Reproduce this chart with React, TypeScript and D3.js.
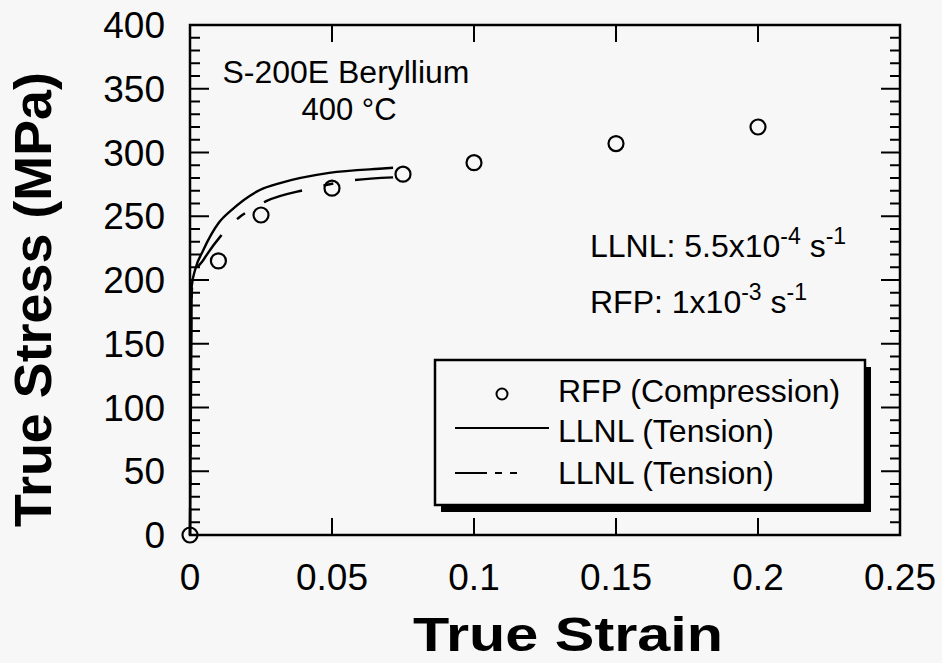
import React from "react";
import * as d3 from "d3";

const W = 942;
const H = 663;

// RFP compression data points
const rfpStrain = [0, 0.01, 0.025, 0.05, 0.075, 0.1, 0.15, 0.2];
const rfpStress = [0, 215, 251, 272, 283, 292, 307, 320];

// LLNL tension (solid)
const llnlSolidStrain = [0, 0.0006, 0.0018, 0.0047, 0.01, 0.0147, 0.0246, 0.0317, 0.049, 0.069, 0.0715];
const llnlSolidStress = [0, 195, 208, 223.5, 244.5, 255, 270.6, 276, 284, 287.6, 288];

// LLNL tension (dashed)
const llnlDashStrain = [0, 0.0005, 0.0012, 0.0047, 0.011, 0.0176, 0.0205, 0.027, 0.041, 0.0563, 0.0715];
const llnlDashStress = [0, 185, 202.6, 215.7, 235, 249.6, 254, 262, 271, 277.9, 280.5];

const xTicks = [0, 0.05, 0.1, 0.15, 0.2, 0.25];
const xTickLabels = ["0", "0.05", "0.1", "0.15", "0.2", "0.25"];
const yTicks = [0, 50, 100, 150, 200, 250, 300, 350, 400];

const FONT = "'Liberation Sans', Arial, Helvetica, sans-serif";
const BG = "#f7f7f7";

export default function App() {
  const x = d3.scaleLinear().domain([0, 0.25]).range([190, 900]);
  const y = d3.scaleLinear().domain([0, 400]).range([535, 25]);
  const [x0, x1] = x.range();
  const [y0, y1] = y.range();

  const line = d3
    .line<[number, number]>()
    .x((d) => x(d[0]))
    .y((d) => y(d[1]))
    .curve(d3.curveMonotoneX);

  const solid = llnlSolidStrain.map((s, i) => [s, llnlSolidStress[i]] as [number, number]);
  const dashed = llnlDashStrain.map((s, i) => [s, llnlDashStress[i]] as [number, number]);

  const minorY = d3.range(10, 400, 10).filter((v) => v % 50 !== 0);
  const majorY = yTicks.filter((v) => v > 0 && v < 400);
  const majorX = xTicks.filter((v) => v > 0 && v < 0.25);

  const sw = 2.4;

  return (
    <svg
      width={W}
      height={H}
      style={{ position: "absolute", left: 0, top: 0, background: BG }}
      fontFamily={FONT}
    >
      <rect x={0} y={0} width={W} height={H} fill={BG} />

      {/* Legend box with shadow */}
      <rect x={441} y={367} width={430} height={145} fill="#000" />
      <rect x={435} y={360} width={430} height={145} fill={BG} stroke="#000" strokeWidth={2.5} />

      {/* frame */}
      <rect x={x0} y={y1} width={x1 - x0} height={y0 - y1} fill="none" stroke="#000" strokeWidth={2.5} />

      {/* y ticks left & right */}
      {minorY.map((v) => (
        <g key={"my" + v}>
          <line x1={x0} x2={x0 + 10} y1={y(v)} y2={y(v)} stroke="#000" strokeWidth={2} />
          <line x1={x1} x2={x1 - 10} y1={y(v)} y2={y(v)} stroke="#000" strokeWidth={2} />
        </g>
      ))}
      {majorY.map((v) => (
        <g key={"My" + v}>
          <line x1={x0} x2={x0 + 19} y1={y(v)} y2={y(v)} stroke="#000" strokeWidth={2} />
          <line x1={x1} x2={x1 - 19} y1={y(v)} y2={y(v)} stroke="#000" strokeWidth={2} />
        </g>
      ))}
      {majorX.map((v) => (
        <g key={"Mx" + v}>
          <line x1={x(v)} x2={x(v)} y1={y0} y2={y0 - 17} stroke="#000" strokeWidth={2} />
          <line x1={x(v)} x2={x(v)} y1={y1} y2={y1 + 17} stroke="#000" strokeWidth={2} />
        </g>
      ))}

      {/* tick labels */}
      {yTicks.map((v) => (
        <text key={"yl" + v} x={165} y={y(v) + 13} fontSize={37} textAnchor="end" fill="#000">
          {v}
        </text>
      ))}
      {xTicks.map((v, i) => (
        <text key={"xl" + v} x={x(v)} y={590} fontSize={37} textAnchor="middle" fill="#000">
          {xTickLabels[i]}
        </text>
      ))}

      {/* axis titles */}
      <text
        x={413}
        y={651}
        fontSize={49}
        fontWeight="bold"
        fill="#000"
        textLength={310}
        lengthAdjust="spacingAndGlyphs"
      >
        True Strain
      </text>
      <text
        transform={`translate(51, 527) rotate(-90)`}
        fontSize={51}
        fontWeight="bold"
        fill="#000"
        textLength={455}
        lengthAdjust="spacingAndGlyphs"
      >
        True Stress (MPa)
      </text>

      {/* curves */}
      <path d={line(solid) || ""} fill="none" stroke="#000" strokeWidth={sw} />
      <path
        d={line(dashed) || ""}
        fill="none"
        stroke="#000"
        strokeWidth={sw}
        strokeDasharray="40,22,10,22"
        strokeDashoffset={13}
      />

      {/* points */}
      {rfpStrain.map((s, i) => (
        <circle key={"p" + i} cx={x(s)} cy={y(rfpStress[i])} r={7.5} fill="none" stroke="#000" strokeWidth={2.2} />
      ))}

      {/* annotations */}
      <text x={346} y={83} fontSize={31} textAnchor="middle" fill="#000" textLength={247} lengthAdjust="spacingAndGlyphs">
        S-200E Beryllium
      </text>
      <text x={349} y={120} fontSize={31} textAnchor="middle" fill="#000">
        400 °C
      </text>
      <text x={590} y={257} fontSize={32} fill="#000">
        LLNL: 5.5x10
        <tspan fontSize={23} dy={-13}>-4</tspan>
        <tspan dy={13}> s</tspan>
        <tspan fontSize={23} dy={-13}>-1</tspan>
      </text>
      <text x={590} y={313} fontSize={32} fill="#000">
        RFP: 1x10
        <tspan fontSize={23} dy={-13}>-3</tspan>
        <tspan dy={13}> s</tspan>
        <tspan fontSize={23} dy={-13}>-1</tspan>
      </text>

      {/* legend entries */}
      <circle cx={502} cy={394} r={5.5} fill="none" stroke="#000" strokeWidth={2} />
      <text x={558} y={402} fontSize={32} fill="#000">RFP (Compression)</text>
      <line x1={455} x2={549} y1={428} y2={428} stroke="#000" strokeWidth={2} />
      <text x={558} y={442} fontSize={32} fill="#000">LLNL (Tension)</text>
      <line x1={455} x2={549} y1={473} y2={473} stroke="#000" strokeWidth={2} strokeDasharray="32,8,7,8,7,100" />
      <text x={558} y={484} fontSize={32} fill="#000">LLNL (Tension)</text>
    </svg>
  );
}
